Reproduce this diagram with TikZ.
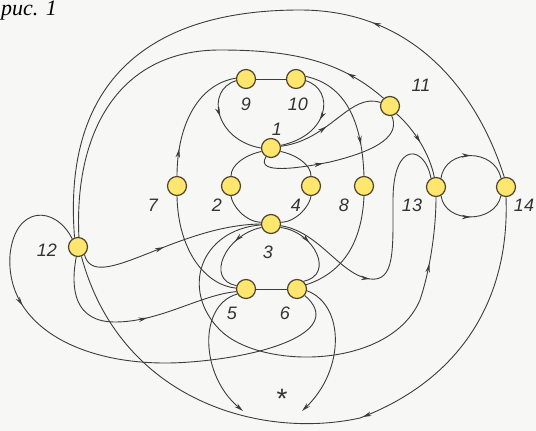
\documentclass[tikz,border=0pt]{standalone}
\usepackage{fontspec}
\setmainfont{Liberation Sans}
\newfontfamily\capfont{Liberation Serif}
\usetikzlibrary{arrows.meta}
\usetikzlibrary{decorations.markings}
\usetikzlibrary{backgrounds}

\definecolor{vfill}{RGB}{255,230,110}
\definecolor{vline}{RGB}{80,70,45}
\definecolor{eline}{RGB}{60,60,60}
\definecolor{paper}{RGB}{247,247,245}

\begin{document}
\begin{tikzpicture}[x=1pt,y=-1pt,
		vert/.style={draw=vline,fill=vfill,circle,line width=1.2pt,minimum size=19pt,inner sep=0pt},
		num/.style={font=\fontsize{18}{18}\selectfont\itshape,text=black!80,inner sep=0pt},
		link/.style={draw=eline,line width=0.9pt},
		midarr/.style={postaction={decorate,decoration={markings,mark=at position #1 with {\arrow{Stealth[length=9pt,width=4.5pt]}}}}},
		endarr/.style={-{Stealth[length=9pt,width=4.5pt]}}]
	\useasboundingbox (0,0) rectangle (536,431);
	\node[font=\capfont\itshape\fontsize{22}{22}\selectfont,anchor=base west,inner sep=0pt] (fig) at (1,16) {рис. 1};
	%% vertices
	\node[vert] (v1) at (271,148) {};
	\node[vert] (v2) at (231,186) {};
	\node[vert] (v3) at (271,224) {};
	\node[vert] (v4) at (311,186) {};
	\node[vert] (v5) at (246,289) {};
	\node[vert] (v6) at (297,289) {};
	\node[vert] (v7) at (177,186) {};
	\node[vert] (v8) at (364,186) {};
	\node[vert] (v9) at (246,79) {};
	\node[vert] (v10) at (296,79) {};
	\node[vert] (v11) at (390,106) {};
	\node[vert] (v12) at (78,247) {};
	\node[vert] (v13) at (436,187) {};
	\node[vert] (v14) at (506,187) {};
	%% numbers
	\node[num] (t1) at (277,129) {1};
	\node[num] (t2) at (217,205) {2};
	\node[num] (t3) at (268,252) {3};
	\node[num] (t4) at (296,205) {4};
	\node[num] (t5) at (232,313) {5};
	\node[num] (t6) at (285,313) {6};
	\node[num] (t7) at (153,205) {7};
	\node[num] (t8) at (344,205) {8};
	\node[num] (t9) at (246,104) {9};
	\node[num] (t10) at (298,104) {10};
	\node[num] (t11) at (421,85) {11};
	\node[num] (t12) at (47,250) {12};
	\node[num] (t13) at (412,205) {13};
	\node[num] (t14) at (524,205) {14};
	\node[num,font=\fontsize{28}{28}\selectfont] (star) at (282,399) {*};
	\coordinate (s5) at (243,411);
	\coordinate (s6) at (302,411);
	\begin{scope}[on background layer]
		\fill[paper] (0,0) rectangle (536,431);
		\draw[link] (v9) -- (v10);
		\draw[link] (v5) -- (v6);
		%% big arcs round the picture
		\draw[link,midarr=0.32] (v14.100) .. controls (480,100) and (420,10) .. (300,10)
			.. controls (150,10) and (62,80) .. (v12.110);
		\draw[link,midarr=0.1] (v11.130) .. controls (340,60) and (290,50) .. (220,50)
			.. controls (120,50) and (74,130) .. (v12.85);
		\draw[link,midarr=0.44] (v14.-90) .. controls (510,300) and (460,380) .. (360,418)
			.. controls (260,440) and (120,400) .. (v12.-70);
		\draw[link,midarr=0.3] (v12.125) .. controls (55,205) and (15,205) .. (10,255)
			.. controls (5,330) and (90,370) .. (190,362)
			.. controls (270,356) and (345,330) .. (v6.-40);
		\draw[link,midarr=0.47] (v12.-50) .. controls (95,295) and (175,225) .. (v3.180);
		\draw[link,midarr=0.57] (v12.-100) .. controls (70,290) and (75,322) .. (115,322)
			.. controls (160,322) and (200,295) .. (v5.195);
		%% upper part
		\draw[link,midarr=0.22] (v7.90) .. controls (177,130) and (195,85) .. (v9.175);
		\draw[link] (v7.-90) .. controls (178,250) and (205,285) .. (v5.175);
		\draw[link,midarr=0.45] (v9.190) .. controls (205,90) and (215,140) .. (v1.180);
		\draw[link,midarr=0.5] (v10.-10) .. controls (335,90) and (330,135) .. (v1.15);
		\draw[link,midarr=0.75] (v10.15) .. controls (345,85) and (362,120) .. (v8.90);
		\draw[link,midarr=0.45] (v1.10) .. controls (330,140) and (350,92) .. (v11.160);
		\draw[link,midarr=0.42] (v1.-120) .. controls (255,175) and (300,168) .. (330,162)
			.. controls (380,150) and (400,135) .. (v11.-80);
		\draw[link] (v1.200) .. controls (245,155) and (231,165) .. (v2.90);
		\draw[link] (v2.-90) .. controls (232,205) and (245,222) .. (v3.170);
		\draw[link] (v1.-20) .. controls (297,155) and (311,165) .. (v4.90);
		\draw[link] (v4.-90) .. controls (310,205) and (297,222) .. (v3.10);
		%% lower part
		\draw[link,midarr=0.35] (v3.200) .. controls (225,235) and (205,280) .. (v5.160);
		\draw[link,midarr=0.4] (v3.-20) .. controls (315,232) and (335,275) .. (v6.50);
		\draw[link] (v8.-90) .. controls (362,240) and (345,272) .. (v6.25);
		\draw[link,midarr=0.37] (v3.-10) .. controls (320,232) and (340,275) .. (370,279)
			.. controls (395,282) and (393,250) .. (393,200)
			.. controls (393,140) and (425,145) .. (v13.120);
		\draw[link,midarr=0.86] (v3.185) .. controls (200,230) and (180,290) .. (220,330)
			.. controls (260,370) and (390,370) .. (420,300)
			.. controls (430,270) and (436,230) .. (v13.-90);
		\draw[link,endarr] (v5.210) .. controls (198,305) and (200,375) .. (s5);
		\draw[link,endarr] (v6.-10) .. controls (345,305) and (345,370) .. (s6);
		%% right part
		\draw[link,midarr=0.5] (v11.-50) .. controls (415,130) and (430,155) .. (v13.100);
		\draw[link,midarr=0.5] (v13.60) .. controls (445,148) and (495,148) .. (v14.120);
		\draw[link,midarr=0.5] (v13.-60) .. controls (445,224) and (495,224) .. (v14.-120);
	\end{scope}
\end{tikzpicture}
\end{document}
